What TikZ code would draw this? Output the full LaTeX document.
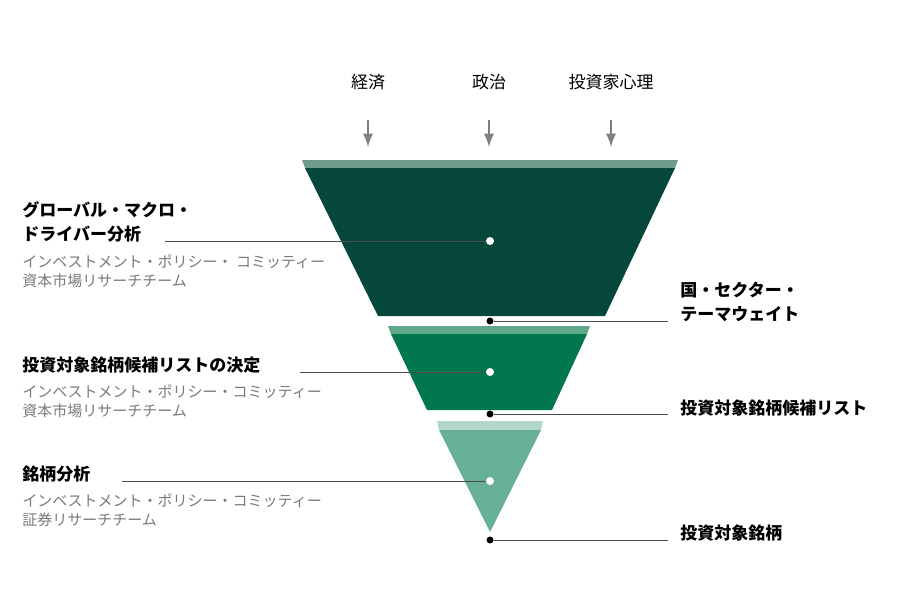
\documentclass[tikz,border=0pt]{standalone}
\usepackage{fontspec}
\setmainfont{Noto Sans CJK JP}
\newfontfamily\jpbold{Noto Sans CJK JP Bold}
\usetikzlibrary{positioning}
\definecolor{darkgreen}{HTML}{05473A}
\definecolor{darkstrip}{HTML}{6F9A8E}
\definecolor{midgreen}{HTML}{00774F}
\definecolor{midstrip}{HTML}{5FA88A}
\definecolor{lightgreen}{HTML}{66B096}
\definecolor{lightstrip}{HTML}{B3D8CA}
\definecolor{greytext}{HTML}{7A7A7A}
\tikzset{
  head/.style={font=\fontsize{8.5}{10}\selectfont\bfseries, anchor=west, align=left, inner sep=0pt},
  sub/.style={font=\fontsize{7.5}{9.5}\selectfont, text=greytext, anchor=north west, align=left, inner sep=0pt},
  top/.style={font=\fontsize{8.5}{10}\selectfont},
  wdot/.style={circle, fill=white, inner sep=0pt, minimum size=4pt},
  bdot/.style={circle, fill=black, inner sep=0pt, minimum size=3.5pt},
  lead/.style={draw=black!70, line width=0.4pt},
  down/.style={-latex, draw=gray, line width=1.3pt},
}
\begin{document}
\begin{tikzpicture}[x=0.5pt, y=-0.5pt]
\useasboundingbox (0,0) rectangle (908,600);

% inputs
\foreach \name/\x/\lab in {eco/368/経済, pol/489/政治, psy/611/投資家心理}{
  \node[top] (\name) at (\x,82) {\lab};
  \coordinate (\name-a) at (\x,120);
  \coordinate (\name-b) at (\x,147);
  \draw[down] (\name-a) -- (\name-b);
}

% funnel
\fill[darkstrip] (302,160) -- (678,160) -- (675,168) -- (305,168) -- cycle;
\fill[darkgreen] (305,168) -- (675,168) -- (605,316) -- (378,316) -- cycle;
\fill[midstrip] (388,326) -- (590,326) -- (587,334) -- (391,334) -- cycle;
\fill[midgreen] (391,334) -- (587,334) -- (552,410) -- (427,410) -- cycle;
\fill[lightstrip] (437,421) -- (543,421) -- (541,430) -- (439,430) -- cycle;
\fill[lightgreen] (439,430) -- (541,430) -- (490,532) -- cycle;

% left labels
\node[head] (macro) at (22,210) {グローバル・マクロ・};
\node[head] (driver) at (22,234) {ドライバー分析};
\node[sub] (macrosub) at (22,254) {インベストメント・ポリシー・ コミッティー\\資本市場リサーチチーム};
\node[head] (cand) at (22,365) {投資対象銘柄候補リストの決定};
\node[sub] (candsub) at (22,384) {インベストメント・ポリシー・コミッティー\\資本市場リサーチチーム};
\node[head] (stock) at (22,474) {銘柄分析};
\node[sub] (stocksub) at (22,493) {インベストメント・ポリシー・コミッティー\\証券リサーチチーム};

\node[wdot] (w1) at (490,241) {};
\node[wdot] (w2) at (490,372) {};
\node[wdot] (w3) at (490,481) {};
\coordinate (l1) at (165,241);
\coordinate (l2) at (300,372);
\coordinate (l3) at (122,481);
\draw[lead] (l1) -- (w1);
\draw[lead] (l2) -- (w2);
\draw[lead] (l3) -- (w3);

% right labels
\node[bdot] (b1) at (490,321) {};
\node[bdot] (b2) at (490,414) {};
\node[bdot] (b3) at (490,540) {};
\coordinate (r1) at (668,321);
\coordinate (r2) at (668,414);
\coordinate (r3) at (668,540);
\draw[lead] (b1) -- (r1);
\draw[lead] (b2) -- (r2);
\draw[lead] (b3) -- (r3);
\node[head] (weight1) at (680,290) {国・セクター・};
\node[head] (weight2) at (680,314) {テーマウェイト};
\node[head] (list) at (680,408) {投資対象銘柄候補リスト};
\node[head] (target) at (680,533) {投資対象銘柄};
\end{tikzpicture}
\end{document}
